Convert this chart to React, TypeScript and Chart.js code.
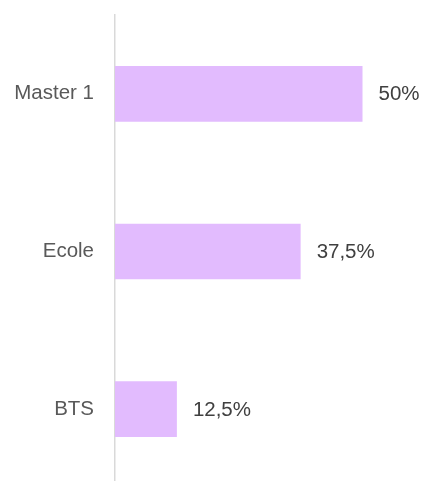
import React, { useEffect, useRef } from "react";
import { Chart, registerables } from "chart.js";

Chart.register(...registerables);

const categories = ["Master 1", "Ecole", "BTS"];
const values = [50, 37.5, 12.5];
const valueLabels = ["50%", "37,5%", "12,5%"];

const valueLabelPlugin = {
  id: "valueLabels",
  afterDatasetsDraw(chart: any) {
    const ctx = chart.ctx;
    const meta = chart.getDatasetMeta(0);
    ctx.save();
    ctx.font = '20.5px "Liberation Sans", Arial, sans-serif';
    ctx.fillStyle = "#404040";
    ctx.textAlign = "left";
    ctx.textBaseline = "middle";
    meta.data.forEach((bar: any, i: number) => {
      ctx.fillText(valueLabels[i], bar.x + 16, bar.y + 1);
    });
    ctx.restore();
  },
};

export default function App() {
  const ref = useRef<HTMLCanvasElement>(null);
  useEffect(() => {
    if (!ref.current) return;
    const chart = new Chart(ref.current, {
      type: "bar",
      data: {
        labels: categories,
        datasets: [
          {
            data: values,
            backgroundColor: "#e2bbfe",
            borderWidth: 0,
            categoryPercentage: 1,
            barPercentage: 0.353,
          },
        ],
      },
      options: {
        indexAxis: "y",
        responsive: false,
        animation: false,
        layout: { padding: { top: 15, bottom: 2, right: 9, left: 0 } },
        plugins: { legend: { display: false }, tooltip: { enabled: false } },
        scales: {
          x: { display: false, min: 0, max: 60 },
          y: {
            afterFit(scale: any) {
              scale.width = 115;
              scale.paddingTop = 0;
              scale.paddingBottom = 0;
            },
            grid: { display: false, drawTicks: false },
            border: { display: true, color: "#d9d9d9", width: 1.5 },
            ticks: {
              padding: 21,
              color: "#595959",
              font: { family: '"Liberation Sans", Arial, sans-serif', size: 20.5 },
            },
          },
        },
      },
      plugins: [valueLabelPlugin],
    });
    return () => chart.destroy();
  }, []);
  return (
    <div style={{ position: "absolute", left: 0, top: 0, width: 421, height: 490 }}>
      <canvas ref={ref} width={421} height={490} />
    </div>
  );
}
